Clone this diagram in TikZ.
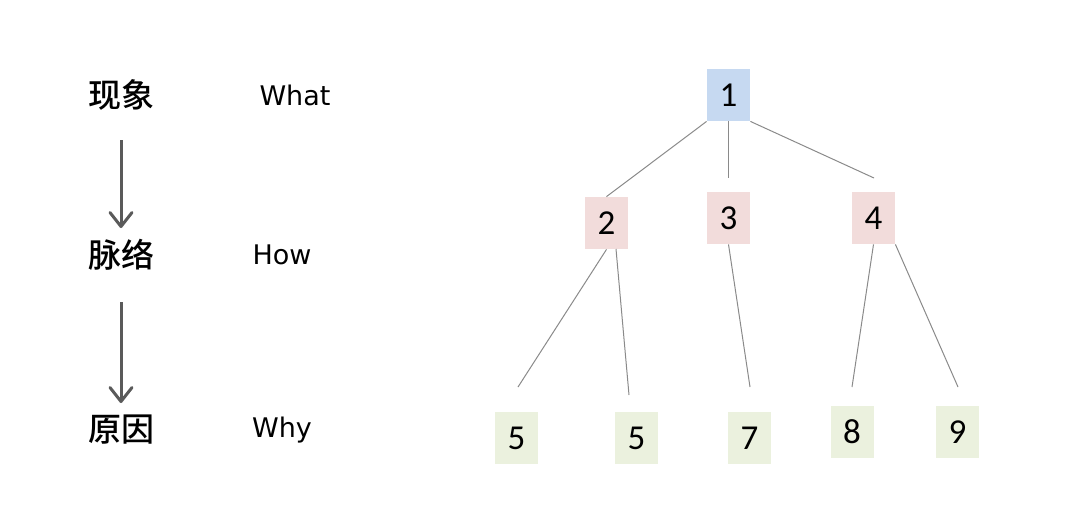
\documentclass[tikz,border=0pt]{standalone}
\usepackage{fontspec}
\setmainfont{DejaVu Sans}
\IfFontExistsTF{Noto Sans CJK SC Medium}
  {\newfontfamily\cjkfont{Noto Sans CJK SC Medium}}
  {\newfontfamily\cjkfont{Noto Sans CJK SC}}
\newfontfamily\numfont{Carlito}
\usetikzlibrary{arrows.meta,positioning}

\definecolor{rootblue}{HTML}{C6D9F1}
\definecolor{midpink}{HTML}{F2DCDB}
\definecolor{leafgreen}{HTML}{EBF1DE}
\definecolor{arrowgray}{HTML}{5A5A5A}
\definecolor{edgegray}{HTML}{8A8A8A}

\tikzset{
  stagelabel/.style={font=\cjkfont\fontsize{16.5}{18}\selectfont},
  asklabel/.style={font=\fontsize{13.5}{16}\selectfont},
  treebox/.style={minimum width=21.5pt,minimum height=26pt,inner sep=0pt,
    font=\numfont\fontsize{17.5}{19}\selectfont},
  stagearrow/.style={arrowgray,line width=1.5pt,
    -{Straight Barb[round,length=7pt,width=11pt]}},
  treeedge/.style={edgegray,line width=0.5pt}
}

\begin{document}
\begin{tikzpicture}[x=0.5pt,y=-0.5pt]
  \useasboundingbox (0,0) rectangle (1080,510);
  % left column: stages
  \node[stagelabel] (what-cn) at (121,95) {现象};
  \node[stagelabel] (how-cn) at (121,255) {脉络};
  \node[stagelabel] (why-cn) at (121,430) {原因};
  \node[asklabel] (what-en) at (295,95) {What};
  \node[asklabel] (how-en) at (282,255) {How};
  \node[asklabel] (why-en) at (282,430) {Why};
  \coordinate (a1s) at (121,140);
  \coordinate (a1e) at (121,228);
  \coordinate (a2s) at (121,302);
  \coordinate (a2e) at (121,403);
  \draw[stagearrow] (a1s) -- (a1e);
  \draw[stagearrow] (a2s) -- (a2e);
  % tree
  \node[treebox,fill=rootblue] (n1) at (728.5,95) {1};
  \node[treebox,fill=midpink] (n2) at (606.5,223) {2};
  \node[treebox,fill=midpink] (n3) at (728.5,218) {3};
  \node[treebox,fill=midpink] (n4) at (873.5,218) {4};
  \node[treebox,fill=leafgreen] (n5a) at (516.5,438) {5};
  \node[treebox,fill=leafgreen] (n5b) at (636.5,438) {5};
  \node[treebox,fill=leafgreen] (n7) at (749.5,438) {7};
  \node[treebox,fill=leafgreen] (n8) at (852,432) {8};
  \node[treebox,fill=leafgreen] (n9) at (957.5,432) {9};
  % loose ends of the edges
  \coordinate (e3) at (728.5,178);
  \coordinate (e4) at (874,178);
  \coordinate (e5a) at (518,387);
  \coordinate (s5b) at (616,249);
  \coordinate (e5b) at (629,395);
  \coordinate (e7) at (750,387);
  \coordinate (e8) at (852,387);
  \coordinate (e9) at (958,387);
  \draw[treeedge] (n1.south west) -- (n2.north);
  \draw[treeedge] (n1.south) -- (e3);
  \draw[treeedge] (n1.south east) -- (e4);
  \draw[treeedge] (n2.south) -- (e5a);
  \draw[treeedge] (s5b) -- (e5b);
  \draw[treeedge] (n3.south) -- (e7);
  \draw[treeedge] (n4.south) -- (e8);
  \draw[treeedge] (n4.south east) -- (e9);
\end{tikzpicture}
\end{document}
